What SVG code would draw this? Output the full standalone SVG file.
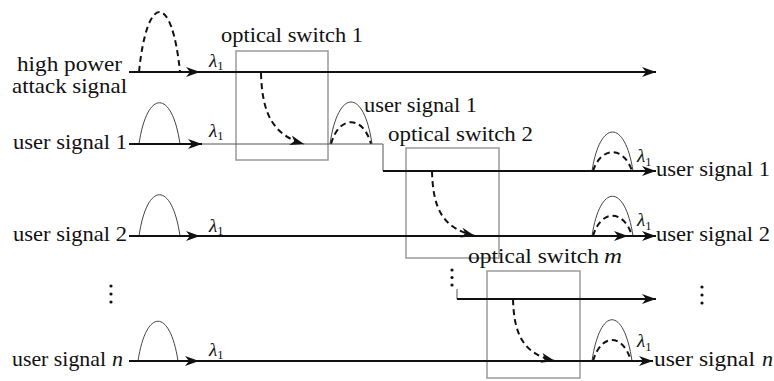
<svg xmlns="http://www.w3.org/2000/svg" width="774" height="381" viewBox="0 0 774 381">
<style>
text{font-family:"Liberation Serif","DejaVu Serif","Noto Serif",serif;font-size:21.5px;fill:#111}
.it{font-style:italic}
.lam{font-size:19px;font-style:italic}
.sub{font-size:12.5px;font-style:normal}
.box{fill:none;stroke:#9a9a9a;stroke-width:1.5}
.thick{fill:none;stroke:#111;stroke-width:2}
.thin{fill:none;stroke:#555;stroke-width:1}
.dash{fill:none;stroke:#111;stroke-width:2;stroke-dasharray:6 4}
.pulse{fill:none;stroke:#444;stroke-width:1}
</style>
<defs>
<marker id="ah" markerUnits="userSpaceOnUse" markerWidth="20" markerHeight="14" refX="15" refY="6" orient="auto" overflow="visible">
<path d="M15,6 L1,1 L5,6 L1,11 Z" fill="#111"/>
</marker>
</defs>
<rect width="774" height="381" fill="#fff"/>

<g id="switch1">
<rect class="box" x="236" y="51" width="92" height="109"/>
<text x="221" y="42" textLength="142" lengthAdjust="spacingAndGlyphs">optical switch 1</text>
</g>
<g id="switch2">
<rect class="box" x="406" y="148" width="93" height="110"/>
<text x="388" y="141" textLength="145" lengthAdjust="spacingAndGlyphs">optical switch 2</text>
</g>
<g id="switchm">
<rect class="box" x="487" y="271" width="93" height="107"/>
<text x="468" y="263" textLength="131" lengthAdjust="spacingAndGlyphs">optical switch</text>
<text class="it" x="604" y="263" textLength="18" lengthAdjust="spacingAndGlyphs">m</text>
</g>

<g id="labels">
<text x="17" y="71" textLength="105" lengthAdjust="spacingAndGlyphs">high power</text>
<text x="12" y="93" textLength="115" lengthAdjust="spacingAndGlyphs">attack signal</text>
<text x="13" y="149" textLength="114" lengthAdjust="spacingAndGlyphs">user signal 1</text>
<text x="13" y="241" textLength="114" lengthAdjust="spacingAndGlyphs">user signal 2</text>
<text x="12" y="366" textLength="94" lengthAdjust="spacingAndGlyphs">user signal</text>
<text class="it" x="112" y="366" textLength="11" lengthAdjust="spacingAndGlyphs">n</text>
<text x="364" y="112" textLength="113" lengthAdjust="spacingAndGlyphs">user signal 1</text>
<text x="656" y="176" textLength="114" lengthAdjust="spacingAndGlyphs">user signal 1</text>
<text x="656" y="241" textLength="114" lengthAdjust="spacingAndGlyphs">user signal 2</text>
<text x="654" y="366" textLength="101" lengthAdjust="spacingAndGlyphs">user signal</text>
<text class="it" x="762" y="366" textLength="11" lengthAdjust="spacingAndGlyphs">n</text>
</g>

<g id="lambdas">
<text class="lam" x="209" y="67">λ<tspan class="sub" dy="3">1</tspan></text>
<text class="lam" x="209" y="137">λ<tspan class="sub" dy="3">1</tspan></text>
<text class="lam" x="209" y="232">λ<tspan class="sub" dy="3">1</tspan></text>
<text class="lam" x="209" y="356">λ<tspan class="sub" dy="3">1</tspan></text>
<text class="lam" x="637" y="162">λ<tspan class="sub" dy="4">1</tspan></text>
<text class="lam" x="637" y="226">λ<tspan class="sub" dy="4">1</tspan></text>
<text class="lam" x="637" y="347">λ<tspan class="sub" dy="4">1</tspan></text>
</g>

<g id="dots">
<circle cx="111" cy="286" r="1.6" fill="#111"/>
<circle cx="111" cy="294" r="1.6" fill="#111"/>
<circle cx="111" cy="302" r="1.6" fill="#111"/>
<circle cx="452" cy="270" r="1.6" fill="#111"/>
<circle cx="452" cy="277.5" r="1.6" fill="#111"/>
<circle cx="452" cy="285" r="1.6" fill="#111"/>
<circle cx="702" cy="287" r="1.6" fill="#111"/>
<circle cx="702" cy="295" r="1.6" fill="#111"/>
<circle cx="702" cy="303" r="1.6" fill="#111"/>
</g>

<g id="pulses">
<path class="dash" d="M139,72 C147,-8 172,-8 180,72"/>
<path class="pulse" d="M139,144 C147,89 172,89 180,144"/>
<path class="pulse" d="M139,236 C147,181 172,181 180,236"/>
<path class="pulse" d="M138,361 C146,308 170,308 178,361"/>
<path class="pulse" d="M330,144 C338,88 364,88 372,144"/>
<path class="dash" d="M331,144 C339,115 363,115 371,144"/>
<path class="pulse" d="M592,171 C600,119 625,119 633,171"/>
<path class="dash" d="M593,171 C601,146 624,146 632,171"/>
<path class="pulse" d="M592,236 C600,183 625,183 633,236"/>
<path class="dash" d="M593,236 C601,209 624,209 632,236"/>
<path class="pulse" d="M592,361 C600,306 624,306 632,361"/>
<path class="dash" d="M593,361 C601,333 623,333 631,361"/>
</g>

<g id="connectors">
<path class="thick" d="M129,72 H200" marker-end="url(#ah)"/>
<path class="thick" d="M200,72 H656" marker-end="url(#ah)"/>
<path class="thick" d="M129,144 H202" marker-end="url(#ah)"/>
<path class="thin" d="M202,144 H383 V171"/>
<path class="thick" d="M383,171 H656" marker-end="url(#ah)"/>
<path class="thick" d="M129,236 H200" marker-end="url(#ah)"/>
<path class="thick" d="M200,236 H656" marker-end="url(#ah)"/>
<path class="thick" d="M598,236 H628" marker-end="url(#ah)"/>
<path class="thin" d="M457,289 V299"/>
<path class="thick" d="M457,299 H656" marker-end="url(#ah)"/>
<path class="thick" d="M129,361 H199" marker-end="url(#ah)"/>
<path class="thick" d="M199,361 H653" marker-end="url(#ah)"/>
<path class="dash" d="M261,73 C262,112 272,135 304,144" marker-end="url(#ah)"/>
<path class="dash" d="M432,171 C433,210 443,228 475,236" marker-end="url(#ah)"/>
<path class="dash" d="M513,299 C514,336 524,354 555,361" marker-end="url(#ah)"/>
</g>
</svg>
